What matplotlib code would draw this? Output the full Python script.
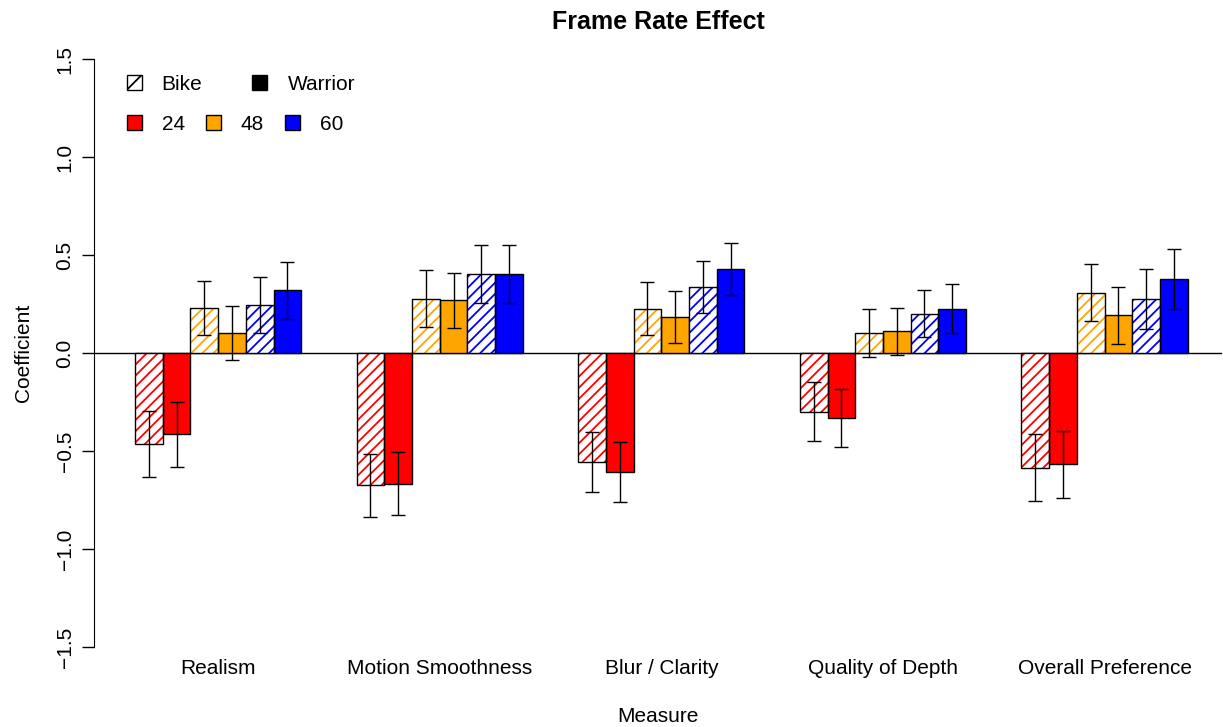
import matplotlib.pyplot as plt
from matplotlib.patches import Patch
import numpy as np

plt.rcParams['font.family'] = ['Liberation Sans', 'DejaVu Sans']
plt.rcParams['hatch.linewidth'] = 1.3

measures = ['Realism', 'Motion Smoothness', 'Blur / Clarity', 'Quality of Depth', 'Overall Preference']

# coefficients (bar heights)
bike_24 = [-0.465, -0.675, -0.558, -0.300, -0.585]
warrior_24 = [-0.414, -0.666, -0.607, -0.333, -0.568]
bike_48 = [0.228, 0.278, 0.227, 0.102, 0.308]
warrior_48 = [0.101, 0.268, 0.185, 0.110, 0.193]
bike_60 = [0.245, 0.403, 0.336, 0.201, 0.276]
warrior_60 = [0.320, 0.403, 0.428, 0.227, 0.377]

# error bar half widths
bike_24_err = [0.167, 0.160, 0.153, 0.150, 0.171]
warrior_24_err = [0.166, 0.161, 0.152, 0.148, 0.171]
bike_48_err = [0.137, 0.143, 0.133, 0.120, 0.147]
warrior_48_err = [0.138, 0.142, 0.133, 0.120, 0.146]
bike_60_err = [0.145, 0.147, 0.133, 0.121, 0.153]
warrior_60_err = [0.145, 0.147, 0.134, 0.123, 0.155]

rates = ['24', '48', '60']
rate_colors = ['#FF0000', '#FFA500', '#0000FF']

series = [
    (bike_24, bike_24_err, 0, True),
    (warrior_24, warrior_24_err, 0, False),
    (bike_48, bike_48_err, 1, True),
    (warrior_48, warrior_48_err, 1, False),
    (bike_60, bike_60_err, 2, True),
    (warrior_60, warrior_60_err, 2, False),
]

W, H = 1223, 727
fig = plt.figure(figsize=(W / 100, H / 100), dpi=100)
ax = fig.add_axes([94 / W, (H - 647) / H, (1222 - 94) / W, (647 - 35.5) / H])

group_start = np.arange(len(measures)) * 8 + 2
for i, (vals, errs, ci, hatched) in enumerate(series):
    x = group_start + i + 0.5
    col = rate_colors[ci]
    if hatched:
        ax.bar(x, vals, width=1, color='white', edgecolor=col, hatch='///', linewidth=0, zorder=2)
        ax.bar(x, vals, width=1, fill=False, edgecolor='black', linewidth=1, zorder=3)
    else:
        ax.bar(x, vals, width=1, color=col, edgecolor='black', linewidth=1, zorder=2)
    ax.errorbar(x, vals, yerr=errs, fmt='none', ecolor='black', elinewidth=1,
                capsize=4.8, capthick=1, zorder=4)

ax.axhline(0, color='black', linewidth=1, zorder=1)

ax.set_xlim(0.52, 41.24)
ax.set_ylim(-1.5, 1.62)
for s in ['top', 'right', 'bottom']:
    ax.spines[s].set_visible(False)
ax.spines['left'].set_bounds(-1.5, 1.5)

yt = [-1.5, -1.0, -0.5, 0.0, 0.5, 1.0, 1.5]
ax.set_yticks(yt)
ax.set_yticklabels([f'{v:.1f}'.replace('-', '\u2212') for v in yt], rotation=90, va='center', fontsize=15)
ax.tick_params(axis='y', length=9, width=1, pad=5)

ax.set_xticks(group_start + 3)
ax.set_xticklabels(measures, fontsize=15)
ax.tick_params(axis='x', length=0, pad=8.5)

ax.set_title('Frame Rate Effect', fontsize=18, fontweight='bold', pad=4.5)
ax.set_ylabel('Coefficient', fontsize=15)
ax.yaxis.set_label_coords((33 - 94) / 1128, (647 - 353) / 611.5)
ax.set_xlabel('Measure', fontsize=15)
ax.xaxis.set_label_coords(0.5, (647 - 707) / 611.5)

# legends
leg_kw = dict(frameon=False, fontsize=15, handlelength=0.72, handleheight=0.72,
              handletextpad=0.96, borderpad=0, borderaxespad=0,
              loc='center left', bbox_transform=fig.transFigure)
h1 = [Patch(facecolor='white', edgecolor='black', hatch='//', linewidth=1),
      Patch(facecolor='black', edgecolor='black', linewidth=1)]
leg1 = ax.legend(h1, ['Bike', 'Warrior'], ncol=2, columnspacing=2.4,
                 bbox_to_anchor=(126.7 / W, (H - 84) / H), **leg_kw)
ax.add_artist(leg1)
h2 = [Patch(facecolor=c, edgecolor='black', linewidth=1) for c in rate_colors]
ax.legend(h2, rates, ncol=3, columnspacing=1.0,
          bbox_to_anchor=(126.7 / W, (H - 124) / H), **leg_kw)

fig.savefig('out.png', dpi=100)
